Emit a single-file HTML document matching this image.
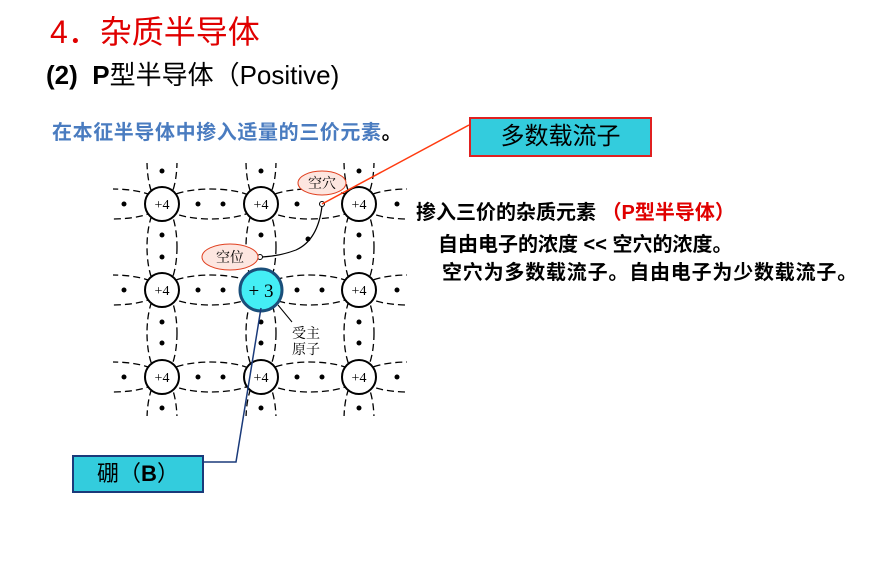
<!DOCTYPE html>
<html><head><meta charset="utf-8"><style>
body{margin:0;width:869px;height:567px;background:#fff;position:relative;overflow:hidden;font-family:"Liberation Sans","Noto Sans CJK SC",sans-serif}
.a{position:absolute;white-space:nowrap}
</style></head><body>
<svg class="a" style="left:0;top:0" width="869" height="567">
<defs><clipPath id="c"><rect x="113" y="163" width="294" height="253"/></clipPath></defs>
<g clip-path="url(#c)" fill="none" stroke="#000" stroke-width="1.3" stroke-dasharray="7,4">
<ellipse cx="211" cy="204" rx="47" ry="15"/><ellipse cx="310" cy="204" rx="47" ry="15"/>
<ellipse cx="211" cy="290" rx="47" ry="15"/><ellipse cx="310" cy="290" rx="47" ry="15"/>
<ellipse cx="211" cy="377" rx="47" ry="15"/><ellipse cx="310" cy="377" rx="47" ry="15"/>
<ellipse cx="113" cy="204" rx="47" ry="15"/><ellipse cx="113" cy="290" rx="47" ry="15"/><ellipse cx="113" cy="377" rx="47" ry="15"/>
<ellipse cx="408" cy="204" rx="47" ry="15"/><ellipse cx="408" cy="290" rx="47" ry="15"/><ellipse cx="408" cy="377" rx="47" ry="15"/>
<ellipse cx="162" cy="247" rx="15" ry="43"/><ellipse cx="261" cy="247" rx="15" ry="43"/><ellipse cx="359" cy="247" rx="15" ry="43"/>
<ellipse cx="162" cy="333" rx="15" ry="43"/><ellipse cx="261" cy="333" rx="15" ry="43"/><ellipse cx="359" cy="333" rx="15" ry="43"/>
<ellipse cx="162" cy="161" rx="15" ry="43"/><ellipse cx="261" cy="161" rx="15" ry="43"/><ellipse cx="359" cy="161" rx="15" ry="43"/>
<ellipse cx="162" cy="420" rx="15" ry="43"/><ellipse cx="261" cy="420" rx="15" ry="43"/><ellipse cx="359" cy="420" rx="15" ry="43"/>
</g>
<g fill="#000">
<circle cx="124" cy="204" r="2.5"/><circle cx="198" cy="204" r="2.5"/><circle cx="223" cy="204" r="2.5"/><circle cx="297" cy="204" r="2.5"/><circle cx="397" cy="204" r="2.5"/>
<circle cx="124" cy="290" r="2.5"/><circle cx="198" cy="290" r="2.5"/><circle cx="223" cy="290" r="2.5"/><circle cx="297" cy="290" r="2.5"/><circle cx="322" cy="290" r="2.5"/><circle cx="397" cy="290" r="2.5"/>
<circle cx="124" cy="377" r="2.5"/><circle cx="198" cy="377" r="2.5"/><circle cx="223" cy="377" r="2.5"/><circle cx="297" cy="377" r="2.5"/><circle cx="322" cy="377" r="2.5"/><circle cx="397" cy="377" r="2.5"/>
<circle cx="162" cy="171" r="2.5"/><circle cx="261" cy="171" r="2.5"/><circle cx="359" cy="171" r="2.5"/>
<circle cx="162" cy="235" r="2.5"/><circle cx="162" cy="257" r="2.5"/><circle cx="261" cy="235" r="2.5"/><circle cx="359" cy="235" r="2.5"/><circle cx="359" cy="257" r="2.5"/>
<circle cx="162" cy="322" r="2.5"/><circle cx="162" cy="343" r="2.5"/><circle cx="261" cy="322" r="2.5"/><circle cx="261" cy="343" r="2.5"/><circle cx="359" cy="322" r="2.5"/><circle cx="359" cy="343" r="2.5"/>
<circle cx="162" cy="408" r="2.5"/><circle cx="261" cy="408" r="2.5"/><circle cx="359" cy="408" r="2.5"/>
<circle cx="308" cy="239" r="2.5"/>
</g>
<g fill="#fff" stroke="#000" stroke-width="2">
<circle cx="162" cy="204" r="17"/><circle cx="261" cy="204" r="17"/><circle cx="359" cy="204" r="17"/>
<circle cx="162" cy="290" r="17"/><circle cx="359" cy="290" r="17"/>
<circle cx="162" cy="377" r="17"/><circle cx="261" cy="377" r="17"/><circle cx="359" cy="377" r="17"/>
</g>
<circle cx="261" cy="290" r="21" fill="#44eef5" stroke="#1a4f7a" stroke-width="3"/>
<g font-family="Liberation Serif,serif" font-size="14" text-anchor="middle">
<text x="162" y="209">+4</text><text x="261" y="209">+4</text><text x="359" y="209">+4</text>
<text x="162" y="295">+4</text><text x="359" y="295">+4</text>
<text x="162" y="382">+4</text><text x="261" y="382">+4</text><text x="359" y="382">+4</text>
<text x="261" y="297" font-size="19">+ 3</text>
</g>
<path d="M322 206 Q318 240 296 250 Q280 256 262 257" fill="none" stroke="#000" stroke-width="1.2"/>
<circle cx="322" cy="204" r="2.5" fill="#fff" stroke="#000"/>
<circle cx="260" cy="257" r="2.5" fill="#fff" stroke="#000"/>
<ellipse cx="322" cy="183" rx="24" ry="12" fill="#fde6e0" stroke="#e04020"/>
<ellipse cx="230" cy="257" rx="28" ry="13" fill="#fde6e0" stroke="#e04020"/>
<g font-family="Liberation Serif,'Noto Serif CJK SC',serif" font-size="14" text-anchor="middle">
<text x="322" y="188">空穴</text><text x="230" y="262">空位</text>
<text x="306" y="338">受主</text><text x="306" y="354">原子</text>
</g>
<line x1="278" y1="305" x2="292" y2="322" stroke="#000"/>
<line x1="469" y1="125" x2="322" y2="204" stroke="#ff3b10" stroke-width="1.5"/>
<polyline points="261,308 236,462 203,462" fill="none" stroke="#1a3a7a" stroke-width="1.5"/>
</svg>
<div class="a" style="left:50px;top:12px;font-size:32px;line-height:40px;color:#e00000">4．杂质半导体</div>
<div class="a" style="left:46px;top:59px;font-size:26px;line-height:32px;color:#000"><b>(2)</b>&nbsp;&nbsp;<b>P</b>型半导体（Positive)</div>
<div class="a" style="left:52px;top:121px;font-size:20px;line-height:24px;letter-spacing:0.6px;color:#4a7cc0;font-weight:bold">在本征半导体中掺入适量的三价元素<span style="color:#000">。</span></div>
<div class="a" style="left:469px;top:117px;width:179px;height:36px;background:#33ccdd;border:2px solid #e02020;font-size:24px;line-height:36px;text-align:center">多数载流子</div>
<div class="a" style="left:72px;top:455px;width:128px;height:34px;background:#33ccdd;border:2px solid #1a3a7a;font-size:22px;line-height:34px;text-align:center">硼（<b>B</b>）</div>
<div class="a" style="left:416px;top:201px;font-size:20px;line-height:24px;font-weight:bold">掺入三价的杂质元素 <span style="color:#e00000">（P型半导体）</span></div>
<div class="a" style="left:438px;top:233px;font-size:20px;line-height:24px;font-weight:bold">自由电子的浓度 &lt;&lt; 空穴的浓度。</div>
<div class="a" style="left:442px;top:261px;font-size:20px;line-height:24px;letter-spacing:0.8px;font-weight:bold">空穴为多数载流子。自由电子为少数载流子。</div>
</body></html>
